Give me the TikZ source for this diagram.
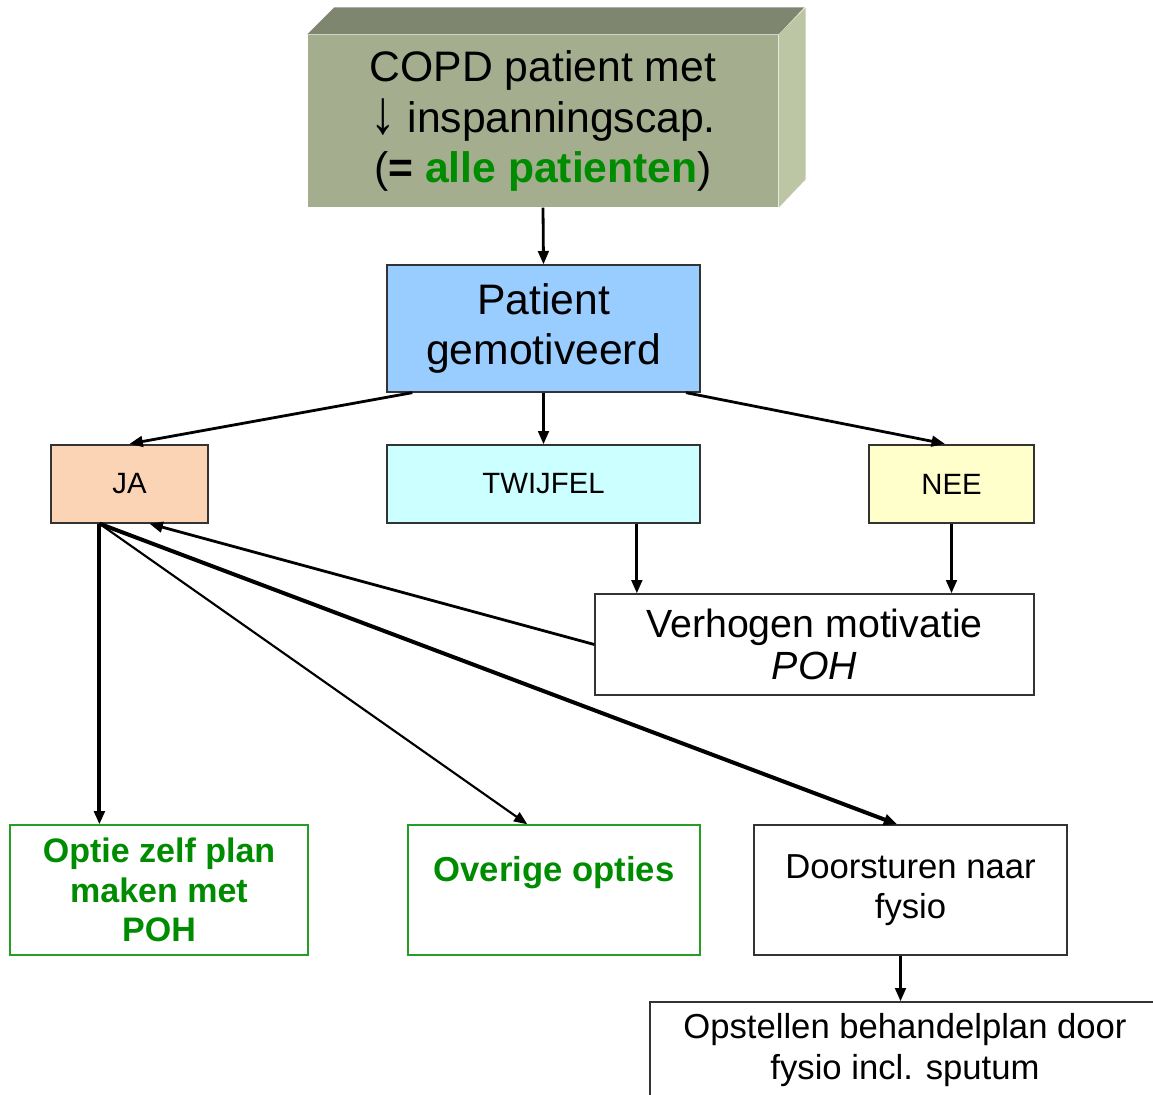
\documentclass[tikz,border=0pt]{standalone}
\usepackage{fontspec}
\usepackage{graphicx}
\setmainfont{Liberation Sans}
\usetikzlibrary{arrows.meta,calc}
\definecolor{frontcol}{RGB}{165,173,143}
\definecolor{topcol}{RGB}{127,134,111}
\definecolor{sidecol}{RGB}{188,198,165}
\definecolor{patcol}{RGB}{153,204,255}
\definecolor{jacol}{RGB}{251,212,181}
\definecolor{twcol}{RGB}{204,255,255}
\definecolor{neecol}{RGB}{255,255,204}
\definecolor{pohgreen}{RGB}{0,140,0}
\begin{document}
\begin{tikzpicture}
[x=0.75pt,y=-0.75pt,
  boxdecorate/.style={shape=rectangle,draw=black!80,line width=1pt,inner sep=0pt,align=center},
  greenbox/.style={boxdecorate,draw=pohgreen!85!white,text=pohgreen,font=\fontsize{25.5}{29.6}\selectfont\bfseries},
  bigtext/.style={font=\fontsize{32}{38}\selectfont},
  midtext/.style={font=\fontsize{29.5}{32}\selectfont},
  smalltext/.style={font=\fontsize{22}{26}\selectfont},
  lowtext/.style={font=\fontsize{26}{30.5}\selectfont},
  linedecorate/.style={-{Triangle[length=10pt,width=8pt]},line width=2.1pt},
  thinline/.style={linedecorate,line width=1.6pt},
  thickline/.style={linedecorate,line width=3pt}]
\useasboundingbox (0,0) rectangle (1153,1095);
\clip (0,0) rectangle (1153,1095);
%% block on top
\node (copd) at (543,121) [boxdecorate,draw=none,fill=frontcol,bigtext,
  minimum width=352.5pt,minimum height=129pt]
  {COPD patient met\\\raisebox{-1pt}{\scalebox{1.2}[1.45]{↓}} inspanningscap.\\(\textbf{= \textcolor{pohgreen}{alle patienten}})};
\fill[topcol] (copd.north west) -- ++(27,-27) -- ++(470,0) -- (copd.north east) -- cycle;
\fill[sidecol] (copd.north east) -- ++(27,-27) -- ++(0,172) -- (copd.south east) -- cycle;
\node (pat) at (543.5,328.5) [boxdecorate,fill=patcol,bigtext,
  minimum width=234.75pt,minimum height=95.25pt] {Patient\\gemotiveerd};
%% answers
\foreach \nodename/\x/\w/\col/\txt in {ja/129.5/117.75/jacol/JA,
  twijfel/543.5/234.75/twcol/TWIJFEL, nee/951.5/123.75/neecol/NEE}
{
  \node (\nodename) at (\x,484) [boxdecorate,fill=\col,smalltext,
    minimum width=\w pt,minimum height=58.5pt] {\txt};
}
\node (verhogen) at (814.5,644.5) [boxdecorate,midtext,
  minimum width=329.25pt,minimum height=75.75pt] {Verhogen motivatie\\\textit{POH}};
%% options
\node (optie) at (159,890) [greenbox,minimum width=223.5pt,minimum height=97.5pt]
  {Optie zelf plan\\maken met\\POH};
\node (overige) at (554,890) [greenbox,font=\fontsize{26}{30}\selectfont\bfseries,
  text depth=32pt,minimum width=219pt,minimum height=97.5pt] {Overige opties};
\node (doors) at (910.5,890) [boxdecorate,lowtext,
  minimum width=234.75pt,minimum height=97.5pt] {Doorsturen naar\\fysio};
\node (opst) at (905,1050) [boxdecorate,lowtext,
  minimum width=382.5pt,minimum height=72pt] {Opstellen behandelplan door\\fysio incl. sputum};
%% edges or lines
\coordinate (jafoot) at ($(ja.south west)!0.31!(ja.south east)$);
\coordinate (twout) at ([xshift=70pt]twijfel.south);
\coordinate (doorsout) at ([xshift=-7.5pt]doors.south);
\draw[linedecorate] (copd.south) -- (pat.north);
\draw[linedecorate] (pat.south) -- (twijfel.north);
\draw[linedecorate,shorten >=2pt] ([xshift=19.5pt]pat.south west) -- ([xshift=-2pt]ja.north);
\draw[linedecorate,shorten >=2pt] ([xshift=-11pt]pat.south east) -- ([xshift=-3pt]nee.north);
\draw[linedecorate] (twout) -- (twout |- verhogen.north);
\draw[linedecorate] (nee.south) -- (nee.south |- verhogen.north);
\draw[linedecorate] (verhogen.west) -- ([xshift=15pt]ja.south);
\draw[thickline] (jafoot) -- (jafoot |- optie.north);
\draw[thinline] (jafoot) -- ([xshift=-20pt]overige.north);
\draw[thickline] (jafoot) -- ([xshift=-10pt]doors.north);
\draw[linedecorate] (doorsout) -- (doorsout |- opst.north);
\end{tikzpicture}
\end{document}
